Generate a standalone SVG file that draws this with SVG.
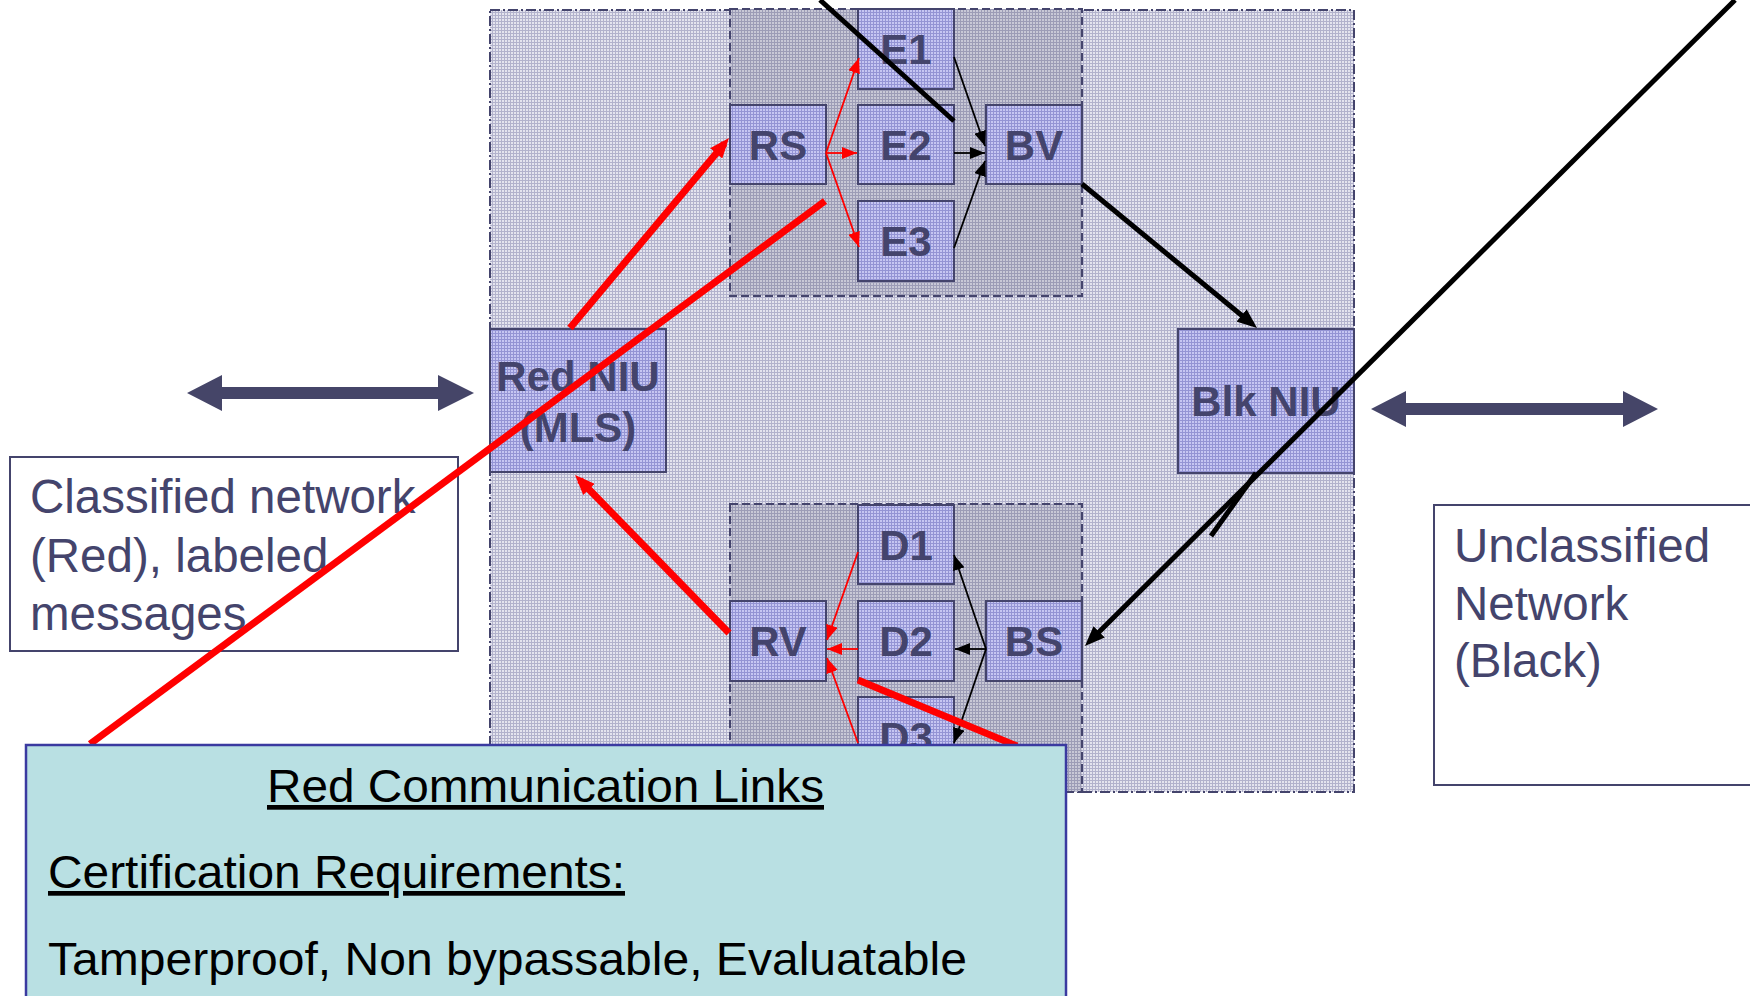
<svg xmlns="http://www.w3.org/2000/svg" width="1750" height="996" viewBox="0 0 1750 996">
  <defs>
    <!-- fine cross-hatch fills -->
    <pattern id="gridOuter" width="3" height="3" patternUnits="userSpaceOnUse">
      <rect width="3" height="3" fill="#e4e4ee"/>
      <rect width="3" height="1" fill="#b2b2cc"/>
      <rect width="1" height="3" fill="#b2b2cc"/>
    </pattern>
    <pattern id="gridInner" width="3" height="3" patternUnits="userSpaceOnUse">
      <rect width="3" height="3" fill="#c8c8d6"/>
      <rect width="3" height="1" fill="#9c9cb6"/>
      <rect width="1" height="3" fill="#9c9cb6"/>
    </pattern>
    <pattern id="gridNode" width="3" height="3" patternUnits="userSpaceOnUse">
      <rect width="3" height="3" fill="#c6c6f2"/>
      <rect width="3" height="1" fill="#9494d4"/>
      <rect width="1" height="3" fill="#9494d4"/>
    </pattern>

    <marker id="redBig" markerUnits="userSpaceOnUse" viewBox="0 0 20 16" markerWidth="20" markerHeight="16" refX="13" refY="8" orient="auto">
      <path d="M0,0 L20,8 L0,16 z" fill="#ff0000"/>
    </marker>
    <marker id="blkBig" markerUnits="userSpaceOnUse" viewBox="0 0 20 16" markerWidth="20" markerHeight="16" refX="14" refY="8" orient="auto">
      <path d="M0,0 L20,8 L0,16 z" fill="#000000"/>
    </marker>
    <marker id="redSmall" markerUnits="userSpaceOnUse" viewBox="0 0 15 12" markerWidth="15" markerHeight="12" refX="15" refY="6" orient="auto">
      <path d="M0,0 L15,6 L0,12 z" fill="#ff0000"/>
    </marker>
    <marker id="blkSmall" markerUnits="userSpaceOnUse" viewBox="0 0 15 12" markerWidth="15" markerHeight="12" refX="15" refY="6" orient="auto">
      <path d="M0,0 L15,6 L0,12 z" fill="#000000"/>
    </marker>
  </defs>

  <style>
    .region { fill: url(#gridOuter); stroke: #44446c; stroke-width: 2; stroke-dasharray: 10 3 2 3; }
    .zone { fill: url(#gridInner); stroke: #44446c; stroke-width: 2; stroke-dasharray: 8 4; }
    .node rect { fill: url(#gridNode); stroke: #44446c; stroke-width: 2; }
    .node text { font-family: "Liberation Sans", Arial, sans-serif; font-weight: bold; font-size: 42px; fill: #44446c; text-anchor: middle; }
    .note rect { fill: #ffffff; stroke: #44446c; stroke-width: 2; }
    .note text { font-family: "Liberation Sans", Arial, sans-serif; font-size: 47.5px; fill: #44446c; }
    .thickRed { stroke: #ff0000; stroke-width: 7; fill: none; }
    .thinRed { stroke: #ff0000; stroke-width: 1.8; fill: none; }
    .thickBlk { stroke: #000000; stroke-width: 5; fill: none; }
    .thinBlk { stroke: #000000; stroke-width: 1.8; fill: none; }
    .duplex { fill: #454568; }
    .links rect { fill: #b9e0e3; stroke: #3a3aa0; stroke-width: 2.5; }
    .links text { font-family: "Liberation Sans", Arial, sans-serif; font-size: 47px; fill: #000000; }
  </style>

  <!-- enclosure and sub-zones -->
  <rect id="enclosure" class="region" x="490" y="10" width="864" height="782"/>
  <rect id="encrypt-zone" class="zone" x="730" y="9" width="352" height="287"/>
  <rect id="decrypt-zone" class="zone" x="730" y="504" width="352" height="288"/>

  <!-- nodes -->
  <g id="node-E1" class="node"><rect x="858" y="9" width="96" height="80"/><text x="906" y="64">E1</text></g>
  <g id="node-RS" class="node"><rect x="730" y="105" width="96" height="79"/><text x="778" y="160">RS</text></g>
  <g id="node-E2" class="node"><rect x="858" y="105" width="96" height="79"/><text x="906" y="160">E2</text></g>
  <g id="node-BV" class="node"><rect x="986" y="105" width="96" height="79"/><text x="1034" y="160">BV</text></g>
  <g id="node-E3" class="node"><rect x="858" y="201" width="96" height="80"/><text x="906" y="256">E3</text></g>
  <g id="node-RedNIU" class="node"><rect x="490" y="329" width="176" height="143"/><text x="578" y="391">Red NIU</text><text x="578" y="442">(MLS)</text></g>
  <g id="node-BlkNIU" class="node"><rect x="1178" y="329" width="176" height="144"/><text x="1266" y="416">Blk NIU</text></g>
  <g id="node-D1" class="node"><rect x="858" y="505" width="96" height="79"/><text x="906" y="560">D1</text></g>
  <g id="node-RV" class="node"><rect x="730" y="601" width="96" height="80"/><text x="778" y="656">RV</text></g>
  <g id="node-D2" class="node"><rect x="858" y="601" width="96" height="80"/><text x="906" y="656">D2</text></g>
  <g id="node-BS" class="node"><rect x="986" y="601" width="96" height="80"/><text x="1034" y="656">BS</text></g>
  <g id="node-D3" class="node"><rect x="858" y="697" width="96" height="80"/><text x="906" y="752">D3</text></g>

  <!-- network notes -->
  <g id="note-classified" class="note">
    <rect x="10" y="457" width="448" height="194"/>
    <text x="30" y="513">Classified network</text>
    <text x="30" y="572">(Red), labeled</text>
    <text x="30" y="630">messages</text>
  </g>
  <g id="note-unclassified" class="note">
    <rect x="1434" y="505" width="330" height="280"/>
    <text x="1454" y="562">Unclassified</text>
    <text x="1454" y="620">Network</text>
    <text x="1454" y="677">(Black)</text>
  </g>

  <!-- connectors -->
  <g id="connectors">
    <!-- network attachments -->
    <path class="duplex" d="M187,393 L222,375 L222,387 L438,387 L438,375 L474,393 L438,411 L438,399 L222,399 L222,411 z"/>
    <path class="duplex" d="M1371,409 L1406,391 L1406,403 L1623,403 L1623,391 L1658,409 L1623,427 L1623,415 L1406,415 L1406,427 z"/>

    <!-- red side -->
    <path class="thickRed" d="M570,328 L724.5,143.4" marker-end="url(#redBig)"/>
    <path class="thickRed" d="M729,633 L579.9,480" marker-end="url(#redBig)"/>
    <path class="thinRed" d="M826,153 L859,58" marker-end="url(#redSmall)"/>
    <path class="thinRed" d="M826,153 L857,153" marker-end="url(#redSmall)"/>
    <path class="thinRed" d="M826,153 L859,247" marker-end="url(#redSmall)"/>
    <path class="thinRed" d="M858,552 L827,640" marker-end="url(#redSmall)"/>
    <path class="thinRed" d="M858,649 L827,649" marker-end="url(#redSmall)"/>
    <path class="thinRed" d="M858,743 L827,658" marker-end="url(#redSmall)"/>

    <!-- black side -->
    <path class="thinBlk" d="M954,57 L985,146" marker-end="url(#blkSmall)"/>
    <path class="thinBlk" d="M954,153 L985,153" marker-end="url(#blkSmall)"/>
    <path class="thinBlk" d="M954,248 L985,161" marker-end="url(#blkSmall)"/>
    <path class="thinBlk" d="M986,649 L954,555" marker-end="url(#blkSmall)"/>
    <path class="thinBlk" d="M986,649 L955,649" marker-end="url(#blkSmall)"/>
    <path class="thinBlk" d="M986,649 L954,743" marker-end="url(#blkSmall)"/>
    <path class="thickBlk" d="M1082,184 L1252.4,324.2" marker-end="url(#blkBig)"/>
    <path class="thickBlk" d="M1256,473 L1211,536"/>
    <path class="thickBlk" d="M1735,0 L1089.2,641.8" marker-end="url(#blkBig)"/>
    <path class="thickBlk" d="M820,0 L954,121"/>

    <!-- link callout lines -->
    <path class="thickRed" d="M825,201 L90,744"/>
    <path class="thickRed" d="M858,680 L1017,746"/>
  </g>

  <!-- callout -->
  <g id="callout-links" class="links">
    <rect x="26" y="745" width="1040" height="270"/>
    <text x="267" y="802" textLength="557" lengthAdjust="spacingAndGlyphs" text-decoration="underline">Red Communication Links</text>
    <text x="48" y="888" textLength="577" lengthAdjust="spacingAndGlyphs" text-decoration="underline">Certification Requirements:</text>
    <text x="48" y="975" textLength="919" lengthAdjust="spacingAndGlyphs">Tamperproof, Non bypassable, Evaluatable</text>
  </g>
</svg>
